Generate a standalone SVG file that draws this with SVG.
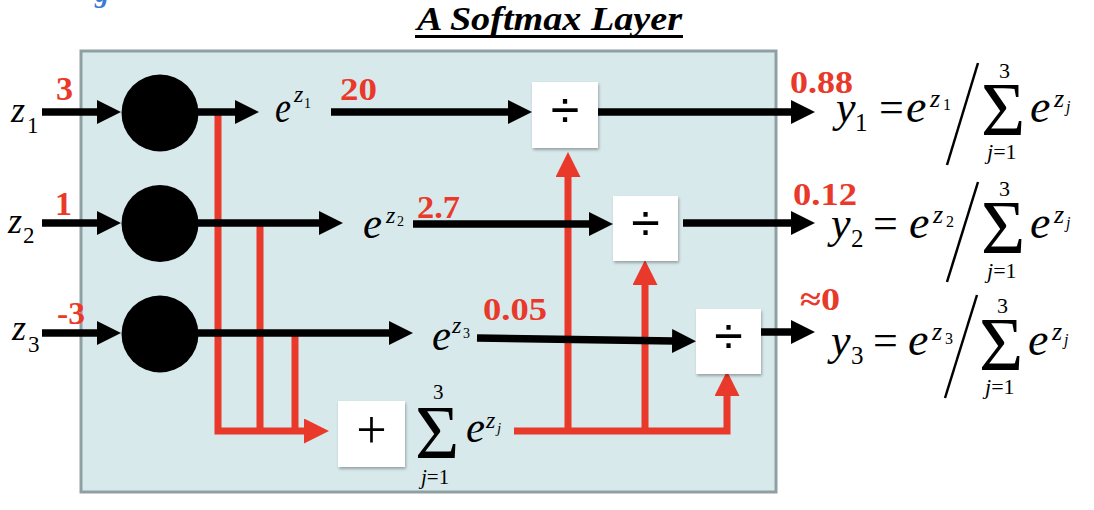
<svg xmlns="http://www.w3.org/2000/svg" width="1094" height="510" viewBox="0 0 1094 510" font-family="Liberation Serif, serif">
<defs>
<style>
.m{font-style:italic;fill:#000}
.r{fill:#000}
.num{font-weight:bold;fill:#e8392a}
.blk{stroke:#000;stroke-width:7.5;fill:none}
.red{stroke:#e8392a;stroke-width:7;fill:none}
.box{fill:#fff}
.op{fill:#000;text-anchor:middle}
</style>
<filter id="sh" x="-20%" y="-20%" width="140%" height="140%">
<feDropShadow dx="1" dy="2" stdDeviation="1.5" flood-color="#000" flood-opacity="0.3"/>
</filter>
<marker id="ab" markerUnits="userSpaceOnUse" markerWidth="24" markerHeight="24" refX="2" refY="12" orient="auto">
<path d="M0,0 L24,12 L0,24 Z" fill="#000"/>
</marker>
<marker id="ar" markerUnits="userSpaceOnUse" markerWidth="25" markerHeight="25" refX="2" refY="12.5" orient="auto">
<path d="M0,0 L25,12.5 L0,25 Z" fill="#e8392a"/>
</marker>
</defs>

<text x="95" y="2" font-style="italic" font-weight="bold" font-size="28" fill="#3a7bd5">g</text>

<g id="title">
<text x="417" y="30" font-style="italic" font-weight="bold" font-size="34" textLength="265" lengthAdjust="spacingAndGlyphs">A Softmax Layer</text>
<line x1="415" y1="36.5" x2="683" y2="36.5" stroke="#000" stroke-width="3"/>
</g>

<g id="panel">
<rect x="81" y="51" width="695" height="441" fill="#d8e9ec" stroke="#8fa0a4" stroke-width="3"/>
</g>

<g id="connectors">
<polyline class="red" points="218,115 218,431 306,431" marker-end="url(#ar)"/>
<line class="red" x1="260" y1="225" x2="260" y2="431"/>
<line class="red" x1="295" y1="333" x2="295" y2="431"/>
<polyline class="red" points="514,431 727,431 727,394" marker-end="url(#ar)"/>
<line class="red" x1="568" y1="431" x2="568" y2="175" marker-end="url(#ar)"/>
<line class="red" x1="645" y1="431" x2="645" y2="283" marker-end="url(#ar)"/>
<line class="blk" x1="42" y1="112" x2="99" y2="112" marker-end="url(#ab)"/>
<line class="blk" x1="198" y1="112" x2="237" y2="112" marker-end="url(#ab)"/>
<line class="blk" x1="331" y1="112" x2="510" y2="112" marker-end="url(#ab)"/>
<line class="blk" x1="598" y1="112" x2="793" y2="112" marker-end="url(#ab)"/>
<line class="blk" x1="42" y1="223" x2="99" y2="223" marker-end="url(#ab)"/>
<line class="blk" x1="198" y1="223" x2="321" y2="223" marker-end="url(#ab)"/>
<line class="blk" x1="413" y1="224" x2="591" y2="224" marker-end="url(#ab)"/>
<line class="blk" x1="683" y1="223" x2="793" y2="223" marker-end="url(#ab)"/>
<line class="blk" x1="42" y1="333" x2="99" y2="333" marker-end="url(#ab)"/>
<line class="blk" x1="198" y1="333" x2="391" y2="333" marker-end="url(#ab)"/>
<line class="blk" x1="477" y1="338" x2="674" y2="341" marker-end="url(#ab)"/>
<line class="blk" x1="757" y1="332" x2="793" y2="332" marker-end="url(#ab)"/>
</g>

<g id="exp1"><circle cx="160" cy="113" r="38.5" fill="#000"/></g>
<g id="exp2"><circle cx="160" cy="223.5" r="38.5" fill="#000"/></g>
<g id="exp3"><circle cx="160" cy="334" r="38.5" fill="#000"/></g>

<g id="div1"><rect class="box" x="532" y="82" width="66" height="66" filter="url(#sh)"/><text class="op" x="565" y="128" font-size="52" font-family="Liberation Sans, sans-serif">÷</text></g>
<g id="div2"><rect class="box" x="613" y="196" width="65" height="65" filter="url(#sh)"/><text class="op" x="645.5" y="241" font-size="52" font-family="Liberation Sans, sans-serif">÷</text></g>
<g id="div3"><rect class="box" x="696" y="309" width="65" height="65" filter="url(#sh)"/><text class="op" x="728.5" y="354" font-size="52" font-family="Liberation Sans, sans-serif">÷</text></g>
<g id="sum"><rect class="box" x="338" y="401" width="67" height="66" filter="url(#sh)"/><text class="op" x="371.5" y="448" font-size="54">+</text></g>

<g id="inputs">
<text class="m" x="11" y="122" font-size="36">z</text><text class="r" x="27" y="133" font-size="23">1</text>
<text class="m" x="8" y="233" font-size="36">z</text><text class="r" x="23" y="243" font-size="23">2</text>
<text class="m" x="12" y="340" font-size="36">z</text><text class="r" x="28" y="352" font-size="23">3</text>
</g>

<g id="exps">
<text class="m" x="275" y="122" font-size="44" textLength="16" lengthAdjust="spacingAndGlyphs">e</text>
<text class="m" x="294" y="102" font-size="24">z</text><text class="r" x="304" y="108" font-size="14">1</text>
<text class="m" x="363" y="238" font-size="44" textLength="19" lengthAdjust="spacingAndGlyphs">e</text>
<text class="m" x="386" y="223" font-size="24">z</text><text class="r" x="397" y="226" font-size="14">2</text>
<text class="m" x="432" y="350" font-size="44" textLength="19" lengthAdjust="spacingAndGlyphs">e</text>
<text class="m" x="452" y="333" font-size="24">z</text><text class="r" x="463" y="338" font-size="14">3</text>
</g>

<g id="sumexpr">
<text class="r" x="415" y="458" font-size="76">Σ</text>
<text class="r" x="433" y="399" font-size="21">3</text>
<text x="421" y="484" font-size="21"><tspan class="m">j</tspan><tspan class="r">=1</tspan></text>
<text class="m" x="466" y="442" font-size="44" textLength="19" lengthAdjust="spacingAndGlyphs">e</text>
<text class="m" x="486" y="428" font-size="24">z</text><text class="m" x="497" y="433" font-size="15">j</text>
</g>

<g id="values">
<text class="num" x="56" y="100" font-size="34">3</text>
<text class="num" x="55" y="215" font-size="34">1</text>
<text class="num" x="57" y="324" font-size="32" textLength="28" lengthAdjust="spacingAndGlyphs">-3</text>
<text class="num" x="340" y="100" font-size="32" textLength="37" lengthAdjust="spacingAndGlyphs">20</text>
<text class="num" x="417" y="218" font-size="32" textLength="43" lengthAdjust="spacingAndGlyphs">2.7</text>
<text class="num" x="483" y="320" font-size="32" textLength="64" lengthAdjust="spacingAndGlyphs">0.05</text>
<text class="num" x="790" y="93" font-size="31" textLength="63" lengthAdjust="spacingAndGlyphs">0.88</text>
<text class="num" x="793" y="205" font-size="31" textLength="64" lengthAdjust="spacingAndGlyphs">0.12</text>
<text class="num" x="800" y="310" font-size="32" textLength="40" lengthAdjust="spacingAndGlyphs">≈0</text>
</g>

<g id="out1">
<text class="m" x="836" y="122" font-size="44">y</text><text class="r" x="855" y="131" font-size="25">1</text>
<text class="r" x="879" y="122" font-size="44">=</text>
<text class="m" x="906" y="122" font-size="46">e</text>
<text class="m" x="930" y="107" font-size="26">z</text><text class="r" x="943" y="110" font-size="16">1</text>
<line x1="978" y1="63" x2="947" y2="165" stroke="#000" stroke-width="2.5"/>
<text class="r" x="981" y="135" font-size="76">Σ</text>
<text class="r" x="999" y="78" font-size="22">3</text>
<text x="987" y="159" font-size="22"><tspan class="m">j</tspan><tspan class="r">=1</tspan></text>
<text class="m" x="1030" y="122" font-size="46">e</text>
<text class="m" x="1054" y="107" font-size="26">z</text><text class="m" x="1066" y="112" font-size="16">j</text>
</g>

<g id="out2">
<text class="m" x="831" y="238" font-size="44">y</text><text class="r" x="851" y="247" font-size="25">2</text>
<text class="r" x="873" y="238" font-size="44">=</text>
<text class="m" x="909" y="238" font-size="46">e</text>
<text class="m" x="933" y="223" font-size="26">z</text><text class="r" x="946" y="227" font-size="16">2</text>
<line x1="978" y1="182" x2="947" y2="282" stroke="#000" stroke-width="2.5"/>
<text class="r" x="981" y="253" font-size="76">Σ</text>
<text class="r" x="999" y="196" font-size="22">3</text>
<text x="987" y="278" font-size="22"><tspan class="m">j</tspan><tspan class="r">=1</tspan></text>
<text class="m" x="1030" y="238" font-size="46">e</text>
<text class="m" x="1054" y="223" font-size="26">z</text><text class="m" x="1066" y="228" font-size="16">j</text>
</g>

<g id="out3">
<text class="m" x="831" y="355" font-size="44">y</text><text class="r" x="851" y="364" font-size="25">3</text>
<text class="r" x="873" y="355" font-size="44">=</text>
<text class="m" x="908" y="355" font-size="46">e</text>
<text class="m" x="932" y="340" font-size="26">z</text><text class="r" x="945" y="344" font-size="16">3</text>
<line x1="977" y1="295" x2="945" y2="398" stroke="#000" stroke-width="2.5"/>
<text class="r" x="979" y="370" font-size="76">Σ</text>
<text class="r" x="997" y="313" font-size="22">3</text>
<text x="985" y="394" font-size="22"><tspan class="m">j</tspan><tspan class="r">=1</tspan></text>
<text class="m" x="1028" y="355" font-size="46">e</text>
<text class="m" x="1052" y="340" font-size="26">z</text><text class="m" x="1064" y="345" font-size="16">j</text>
</g>
</svg>
